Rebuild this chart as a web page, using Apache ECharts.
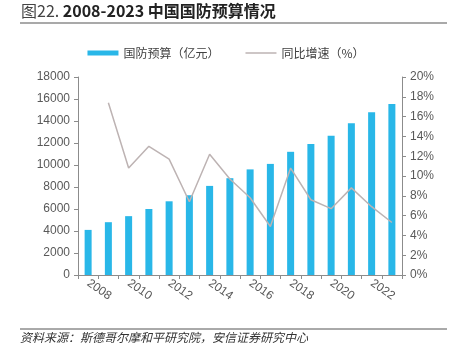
<!DOCTYPE html>
<html><head><meta charset="utf-8">
<script src="https://cdn.jsdelivr.net/npm/echarts@6/dist/echarts.min.js"></script>
<style>html,body{margin:0;padding:0;background:#fff}#c{width:452px;height:344px}</style>
</head><body><div id="c"></div>
<script>
var years = ['2008','2009','2010','2011','2012','2013','2014','2015','2016','2017','2018','2019','2020','2021','2022','2023'];
var budget = [4100,4800,5350,6000,6700,7250,8100,8800,9600,10100,11200,11900,12650,13800,14800,15550];
var growth = [null,17.4,10.8,13.0,11.7,7.4,12.2,9.7,7.8,4.9,10.8,7.6,6.7,8.8,6.9,5.3];
var seriesNames = ['国防预算（亿元）','同比增速（%）'];
var titleMain = '2008-2023 中国国防预算情况';
var titlePrefix = '图22. ';
var sourceText = '资料来源：斯德哥尔摩和平研究院，安信证券研究中心';

var chart = echarts.init(document.getElementById('c'), null, {renderer:'canvas'});
var axisColor = '#8c8c8c';
var labelColor = '#595959';
chart.setOption({
  animation:false,
  textStyle:{fontFamily:'Liberation Sans, Arial, sans-serif'},
  graphic:[
    {type:'text', left:21, top:3, style:{rich:{
        a:{fontSize:16, fontFamily:'Noto Sans CJK SC', fill:'#444', fontWeight:'normal'},
        b:{fontSize:16, fontFamily:'Noto Sans CJK SC', fill:'#222', fontWeight:'bold'}},
      text:'{a|'+titlePrefix+'}{b|'+titleMain+'}'}},
    {type:'line', shape:{x1:20,y1:23,x2:447,y2:23}, style:{stroke:'#555', lineWidth:1.2}},
    {type:'line', shape:{x1:20,y1:329,x2:447,y2:329}, style:{stroke:'#555', lineWidth:1}},
    {type:'text', left:20, top:331, style:{text:sourceText, fontSize:12, fontStyle:'italic', fontFamily:'Noto Sans CJK SC', fill:'#333'}}
  ],
  legend:{
    top:42, left:'center', itemGap:26, itemWidth:31, itemHeight:5,
    textStyle:{fontSize:12, color:'#404040', fontFamily:'Noto Sans CJK SC'},
    data:[{name:seriesNames[0], icon:'rect'},
          {name:seriesNames[1], icon:'path://M0,0 L62,0 L62,3 L0,3 Z'}]
  },
  grid:{left:78, right:50, top:77, bottom:69},
  xAxis:{
    type:'category', data:years,
    axisLine:{lineStyle:{color:axisColor}},
    axisTick:{show:true, interval:0, length:4, lineStyle:{color:axisColor}},
    axisLabel:{interval:1, rotate:-35, fontSize:12, color:labelColor, margin:7}
  },
  yAxis:[
    {type:'value', min:0, max:18000, interval:2000, splitLine:{show:false},
     axisLine:{show:true, lineStyle:{color:axisColor}},
     axisTick:{show:true, length:4, lineStyle:{color:axisColor}},
     axisLabel:{fontSize:12, color:labelColor, margin:8, formatter:function(v){return String(v);}}},
    {type:'value', min:0, max:20, interval:2, splitLine:{show:false},
     axisLine:{show:true, lineStyle:{color:axisColor}},
     axisTick:{show:true, length:4, lineStyle:{color:axisColor}},
     axisLabel:{fontSize:12, color:labelColor, margin:8, formatter:'{value}%'}}
  ],
  series:[
    {name:seriesNames[0], type:'bar', data:budget, barWidth:7, itemStyle:{color:'#29B7E8'}},
    {name:seriesNames[1], type:'line', yAxisIndex:1, data:growth, symbol:'none', showSymbol:false,
     lineStyle:{color:'#BDB3B3', width:1.5}, itemStyle:{color:'#BDB3B3'}}
  ]
});
</script></body></html>
